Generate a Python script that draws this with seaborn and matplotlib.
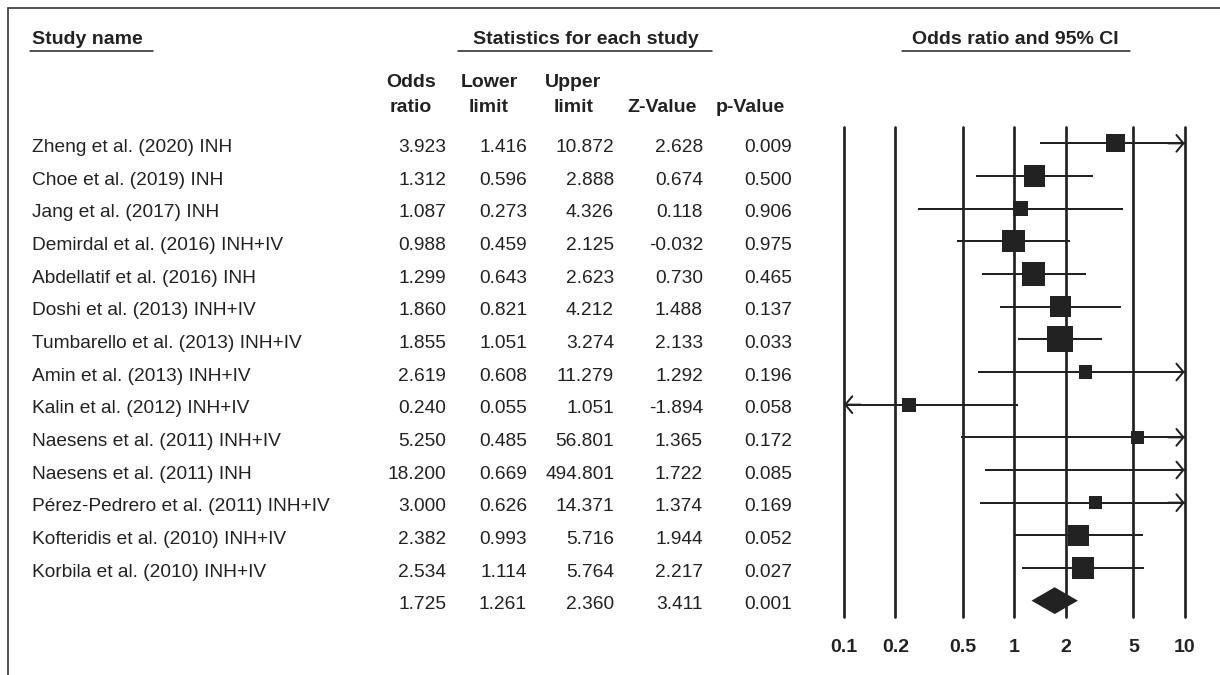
import numpy as np
import pandas as pd
import matplotlib
matplotlib.use("Agg")
import matplotlib.pyplot as plt
import matplotlib.transforms as mtransforms
import seaborn as sns

# ---- data -------------------------------------------------------------
studies = [
    "Zheng et al. (2020) INH",
    "Choe et al. (2019) INH",
    "Jang et al. (2017) INH",
    "Demirdal et al. (2016) INH+IV",
    "Abdellatif et al. (2016) INH",
    "Doshi et al. (2013) INH+IV",
    "Tumbarello et al. (2013) INH+IV",
    "Amin et al. (2013) INH+IV",
    "Kalin et al. (2012) INH+IV",
    "Naesens et al. (2011) INH+IV",
    "Naesens et al. (2011) INH",
    "Pérez-Pedrero et al. (2011) INH+IV",
    "Kofteridis et al. (2010) INH+IV",
    "Korbila et al. (2010) INH+IV",
]
odds_ratio = [3.923, 1.312, 1.087, 0.988, 1.299, 1.860, 1.855, 2.619, 0.240,
              5.250, 18.200, 3.000, 2.382, 2.534]
lower_limit = [1.416, 0.596, 0.273, 0.459, 0.643, 0.821, 1.051, 0.608, 0.055,
               0.485, 0.669, 0.626, 0.993, 1.114]
upper_limit = [10.872, 2.888, 4.326, 2.125, 2.623, 4.212, 3.274, 11.279, 1.051,
               56.801, 494.801, 14.371, 5.716, 5.764]
z_value = [2.628, 0.674, 0.118, -0.032, 0.730, 1.488, 2.133, 1.292, -1.894,
           1.365, 1.722, 1.374, 1.944, 2.217]
p_value = [0.009, 0.500, 0.906, 0.975, 0.465, 0.137, 0.033, 0.196, 0.058,
           0.172, 0.085, 0.169, 0.052, 0.027]
# relative weight (%) of each study, shown by the square area
rel_weight = [7.1, 10.1, 4.4, 10.4, 11.6, 9.6, 14.3, 4.0, 4.0, 1.7, 0.9, 3.6,
              8.8, 9.6]

pooled_or = 1.725
pooled_lower = 1.261
pooled_upper = 2.360
pooled_z = 3.411
pooled_p = 0.001

axis_ticks = [0.1, 0.2, 0.5, 1, 2, 5, 10]
axis_tick_labels = ["0.1", "0.2", "0.5", "1", "2", "5", "10"]

# ---- style ------------------------------------------------------------
sns.set_theme(style="white")
plt.rcParams["font.family"] = ["Liberation Sans", "DejaVu Sans"]
INK = "#222222"
W, H = 1220, 675
X_MIN, X_MAX = 0.1, 10

fig = plt.figure(figsize=(W / 100, H / 100), dpi=100)
fig.patch.set_facecolor("white")

# full-figure layer in pixel units for the table text and frame
bg = fig.add_axes([0, 0, 1, 1])
bg.set_xlim(0, W)
bg.set_ylim(H, 0)
bg.axis("off")

# forest panel
ax_left, ax_right, ax_top, ax_bottom = 844, 1184.7, 127, 617
ax = fig.add_axes([ax_left / W, (H - ax_bottom) / H,
                   (ax_right - ax_left) / W, (ax_bottom - ax_top) / H])
ax.set_facecolor("none")
ax.set_xscale("log")
n = len(studies)
pooled_row = n
ax.set_xlim(X_MIN, X_MAX)
ax.set_ylim(pooled_row + 0.5, -0.5)
for s in ax.spines.values():
    s.set_visible(False)
ax.set_yticks([])
ax.set_xticks(axis_ticks)
ax.set_xticklabels(axis_tick_labels, fontsize=14, fontweight="bold", color=INK)
ax.minorticks_off()
ax.tick_params(axis="x", length=0, pad=16)

# reference lines at every tick
for t in axis_ticks:
    ax.axvline(t, color=INK, lw=1.95, clip_on=False, zorder=1)

df = pd.DataFrame({
    "study": studies, "or": odds_ratio, "lo": lower_limit, "hi": upper_limit,
    "z": z_value, "p": p_value, "w": rel_weight, "row": np.arange(n),
})

# confidence intervals, with arrows where they run off the scale
arrow_style = "->,head_length=0.5,head_width=0.6"
for _, r in df.iterrows():
    lo_c = max(r.lo, X_MIN)
    hi_c = min(r.hi, X_MAX)
    ax.hlines(r.row, lo_c, hi_c, color=INK, lw=1.45, zorder=2)
    if r.hi > X_MAX:
        ax.annotate("", xy=(X_MAX, r.row), xytext=(X_MAX * 0.8, r.row),
                    arrowprops=dict(arrowstyle=arrow_style, color=INK, lw=1.45,
                                    mutation_scale=10, shrinkA=0, shrinkB=0),
                    annotation_clip=False, zorder=2)
    if r.lo < X_MIN:
        ax.annotate("", xy=(X_MIN, r.row), xytext=(X_MIN * 1.25, r.row),
                    arrowprops=dict(arrowstyle=arrow_style, color=INK, lw=1.45,
                                    mutation_scale=10, shrinkA=0, shrinkB=0),
                    annotation_clip=False, zorder=2)

# weight squares (only for estimates inside the plotted range)
shown = df[(df["or"] >= X_MIN) & (df["or"] <= X_MAX)].copy()
side_px = np.maximum(6.876 * np.sqrt(shown["w"].to_numpy()), 13.0)
sns.scatterplot(data=shown, x="or", y="row", marker="s",
                s=(side_px * 0.72) ** 2, color=INK, linewidth=0,
                legend=False, ax=ax, zorder=3, clip_on=False)
ax.set_xlabel("")
ax.set_ylabel("")

# pooled estimate diamond
half_h = 0.41
ax.fill([pooled_lower, pooled_or, pooled_upper, pooled_or],
        [pooled_row, pooled_row - half_h, pooled_row, pooled_row + half_h],
        color=INK, lw=0, zorder=3)

# ---- table ------------------------------------------------------------
row_tf = mtransforms.blended_transform_factory(bg.transData, ax.transData)
base_off = 0.266  # baseline sits slightly below the row centre
body = dict(fontsize=13.8, color=INK, va="baseline", transform=row_tf)
col_right = [446, 527, 614, 703, 792]


def fmt(v):
    return f"{v:.3f}"


for _, r in df.iterrows():
    y = r.row + base_off
    bg.text(31.7, y, r.study, ha="left", **body)
    for xr, v in zip(col_right, [r["or"], r.lo, r.hi, r.z, r.p]):
        bg.text(xr, y, fmt(v), ha="right", **body)

y = pooled_row + base_off
for xr, v in zip(col_right, [pooled_or, pooled_lower, pooled_upper,
                             pooled_z, pooled_p]):
    bg.text(xr, y, fmt(v), ha="right", **body)

# headers
head = dict(fontsize=14, fontweight="bold", color=INK, va="baseline")
bg.text(31.7, 43.5, "Study name", ha="left", **head)
bg.plot([30, 153], [50.7, 50.7], color=INK, lw=1.1)
bg.text(585.5, 43.5, "Statistics for each study", ha="center", **head)
bg.plot([458, 712], [50.7, 50.7], color=INK, lw=1.1)
bg.text(1015, 43.5, "Odds ratio and 95% CI", ha="center", **head)
bg.plot([902, 1130], [50.7, 50.7], color=INK, lw=1.1)

col_heads = [(411, "Odds", "ratio"), (489, "Lower", "limit"),
             (573.5, "Upper", "limit"), (662, "", "Z-Value"),
             (750, "", "p-Value")]
for xc, l1, l2 in col_heads:
    if l1:
        bg.text(xc, 87, l1, ha="center", **head)
    bg.text(xc, 111.5, l2, ha="center", **head)

# frame (top and left edges)
bg.plot([8.3, W], [8.3, 8.3], color="#444444", lw=1.3)
bg.plot([8.3, 8.3], [8.3, H], color="#444444", lw=1.3)

fig.savefig("out.png", dpi=100, facecolor="white")
